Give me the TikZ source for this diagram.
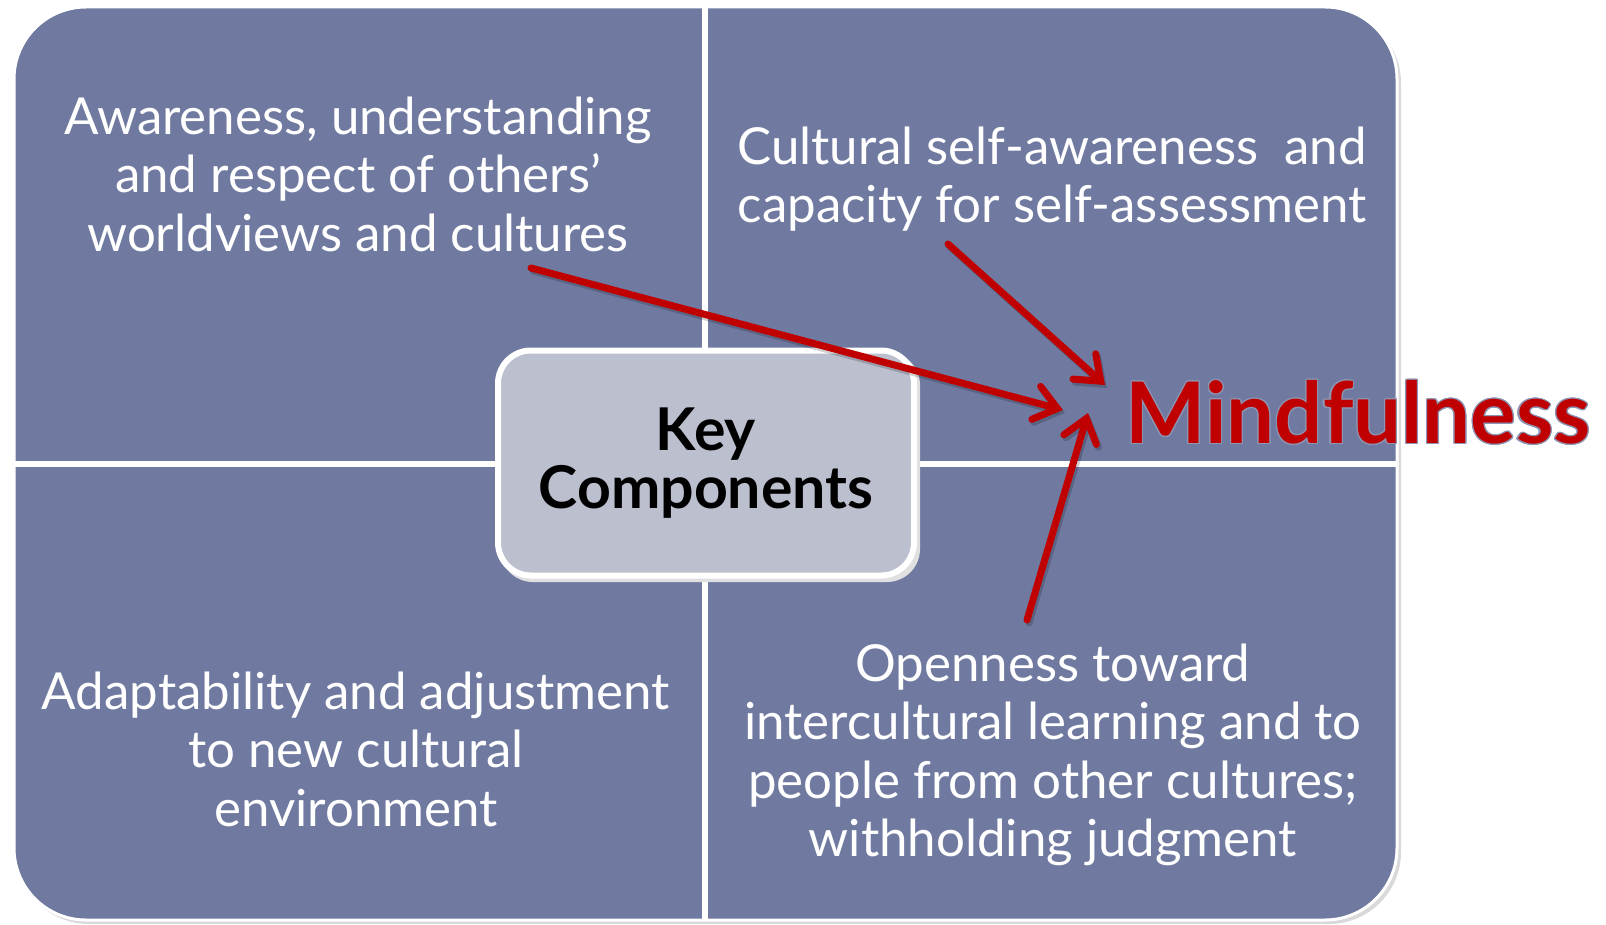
\documentclass[tikz,border=0pt]{standalone}
\usepackage{fontspec}
\setmainfont{Lato}
\usepackage{contour}
\usetikzlibrary{arrows.meta}
\definecolor{panel}{RGB}{112,122,160}
\definecolor{keyfill}{RGB}{187,191,206}
\definecolor{mindred}{RGB}{192,0,0}
\contourlength{1.2pt}
\begin{document}
\begin{tikzpicture}[x=1pt,y=-1pt,
  quadtext/.style={text=white, align=center, inner sep=0pt,
    font=\fontsize{51}{58.5}\selectfont},
  keybox/.style={draw=white, line width=6pt, fill=keyfill, rounded corners=33pt,
    minimum width=416pt, minimum height=225pt, inner sep=0pt, align=center,
    font=\bfseries\fontsize{59}{58}\selectfont},
  pointer/.style={draw=mindred, line width=7pt, line cap=round,
    -{Straight Barb[length=22pt, width=34pt, line cap=round]}},
  pointershadow/.style={draw=black, opacity=0.18, line width=7pt, line cap=round,
    -{Straight Barb[length=22pt, width=34pt, line cap=round]}}]
\useasboundingbox (0,0) rectangle (1606,925);

% panel with soft shadow
\fill[black!15, rounded corners=72pt] (17,11) rectangle (1401,924);
\draw[white, line width=3pt, fill=panel, rounded corners=72pt] (14,7) rectangle (1397,920);
% dividers between the four quadrants
\draw[white, line width=6pt] (705,7) -- (705,920);
\draw[white, line width=6pt] (14,464) -- (1397,464);

% quadrant texts
\node[quadtext] (q1) at (358,174) {Awareness, understanding\\and respect of others’\\worldviews and cultures};
\node[quadtext] (q2) at (1052,179) {Cultural self-awareness\ \ and\\capacity for self-assessment};
\node[quadtext] (q3) at (356,749) {Adaptability and adjustment\\to new cultural\\environment};
\node[quadtext] (q4) at (1053,755) {Openness toward\\intercultural learning and to\\people from other cultures;\\withholding judgment};

% centre box
\fill[black!12] (500,352) [rounded corners=33pt] rectangle (920,582);
\node[keybox] (key) at (706,463) {\raisebox{-3pt}{Key}\\\raisebox{-3pt}{Components}};

% target word
\node[inner sep=0pt, text=mindred, font=\bfseries\fontsize{85}{85}\selectfont] (mind) at (1358,413) {\contour{panel!80}{Mindfulness}};

% arrows pointing at the target word
\coordinate (s1) at (531,268);
\coordinate (e1) at (1063,410);
\coordinate (s2) at (948,244);
\coordinate (e2) at (1105,385);
\coordinate (s3) at (1027,620);
\coordinate (e3) at (1088,413);
\foreach \a/\b in {s1/e1, s2/e2, s3/e3}{
  \draw[pointershadow] ([shift={(2,3)}]\a) -- ([shift={(2,3)}]\b);
}
\foreach \a/\b in {s1/e1, s2/e2, s3/e3}{
  \draw[pointer] (\a) -- (\b);
}
\end{tikzpicture}
\end{document}
